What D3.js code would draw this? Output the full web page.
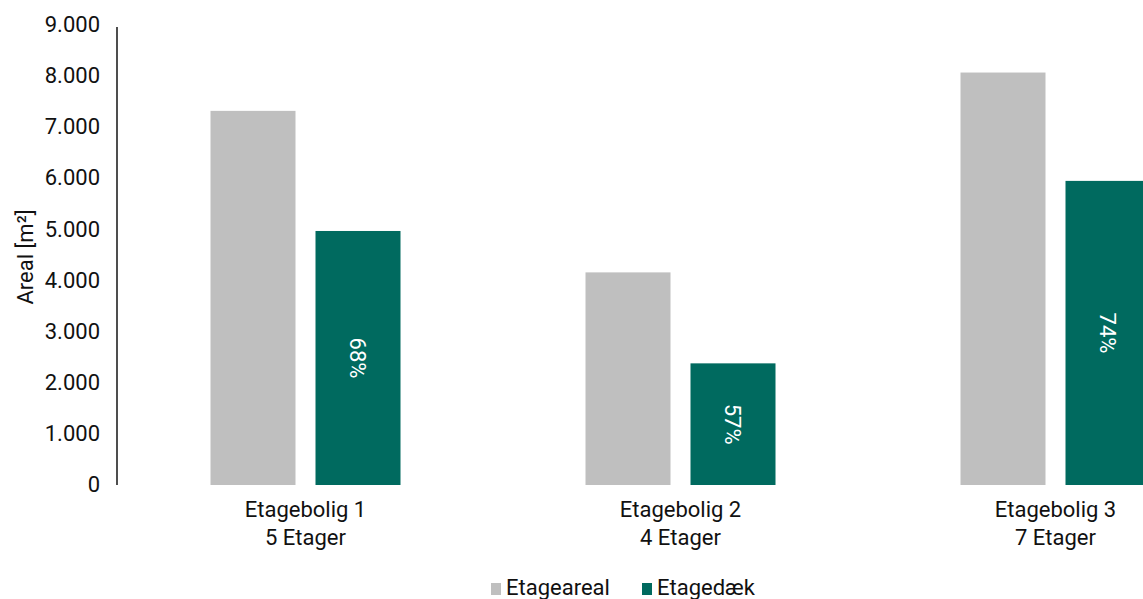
<!DOCTYPE html>
<html><head><meta charset="utf-8">
<script src="https://cdn.jsdelivr.net/npm/d3@7"></script>
<style>body{margin:0;background:#fff}svg{display:block}text{font-family:Roboto,"Liberation Sans",sans-serif;font-weight:400}</style>
</head><body><svg id="c" width="1143" height="599"></svg>
<script>
const categories = ["Etagebolig 1|5 Etager","Etagebolig 2|4 Etager","Etagebolig 3|7 Etager"];
const etageareal = [7320, 4160, 8070];
const etagedaek = [4970, 2380, 5950];
const pctLabels = ["68%","57%","74%"];
const seriesNames = ["Etageareal","Etagedæk"];
const yTicks = [0,1000,2000,3000,4000,5000,6000,7000,8000,9000];
const colors = ["#BFBFBF","#006A5F"];

const svg = d3.select("#c");
const x = d3.scaleBand().domain(categories).range([118, 1243]).paddingInner(0).paddingOuter(0);
const y = d3.scaleLinear().domain([0, 9000]).range([485, 25]);
const fmt = v => v === 0 ? "0" : d3.format(",")(v).replace(",", ".");
const FS = 22;

// y axis
const ya = svg.append("g").attr("transform","translate(117,0)")
  .call(d3.axisLeft(y).tickValues(yTicks).tickSize(0).tickPadding(17).tickFormat(fmt));
ya.select(".domain").attr("stroke","#222").attr("stroke-width",1.6).attr("d","M0,27V485");
ya.selectAll("text").attr("font-size",FS).attr("fill","#111").attr("dy","0.3em")
  .style("font-family","Roboto").style("font-weight",400);

svg.append("text").attr("transform","translate(33,257) rotate(-90)").attr("text-anchor","middle")
  .attr("font-size",FS).attr("fill","#111").text("Areal  [m²]");

const bw = 85, gap = 20;
const data = categories.map((c,i)=>({c, a:etageareal[i], d:etagedaek[i], p:pctLabels[i]}));
const g = svg.append("g");
data.forEach(d=>{
  const cx = x(d.c) + x.bandwidth()/2;
  g.append("rect").attr("x",cx - gap/2 - bw).attr("y",y(d.a)).attr("width",bw).attr("height",y(0)-y(d.a)).attr("fill",colors[0]);
  g.append("rect").attr("x",cx + gap/2).attr("y",y(d.d)).attr("width",bw).attr("height",y(0)-y(d.d)).attr("fill",colors[1]);
  const my = (y(d.d)+y(0))/2, mx = cx + gap/2 + bw/2;
  g.append("text").attr("transform",`translate(${mx},${my}) rotate(90)`).attr("text-anchor","middle").attr("dy","0.35em")
    .attr("font-size",FS).attr("fill","#fff").text(d.p);
  const parts = d.c.split("|");
  g.append("text").attr("x",cx).attr("y",517).attr("text-anchor","middle").attr("font-size",FS).attr("fill","#111").text(parts[0]);
  g.append("text").attr("x",cx).attr("y",545).attr("text-anchor","middle").attr("font-size",FS).attr("fill","#111").text(parts[1]);
});

// legend
const lx = [491, 642];
seriesNames.forEach((n,i)=>{
  svg.append("rect").attr("x",lx[i]).attr("y",583).attr("width",10).attr("height",12).attr("fill",colors[i]);
  svg.append("text").attr("x",lx[i]+15).attr("y",595).attr("font-size",FS).attr("fill","#111").text(n);
});
</script></body></html>
